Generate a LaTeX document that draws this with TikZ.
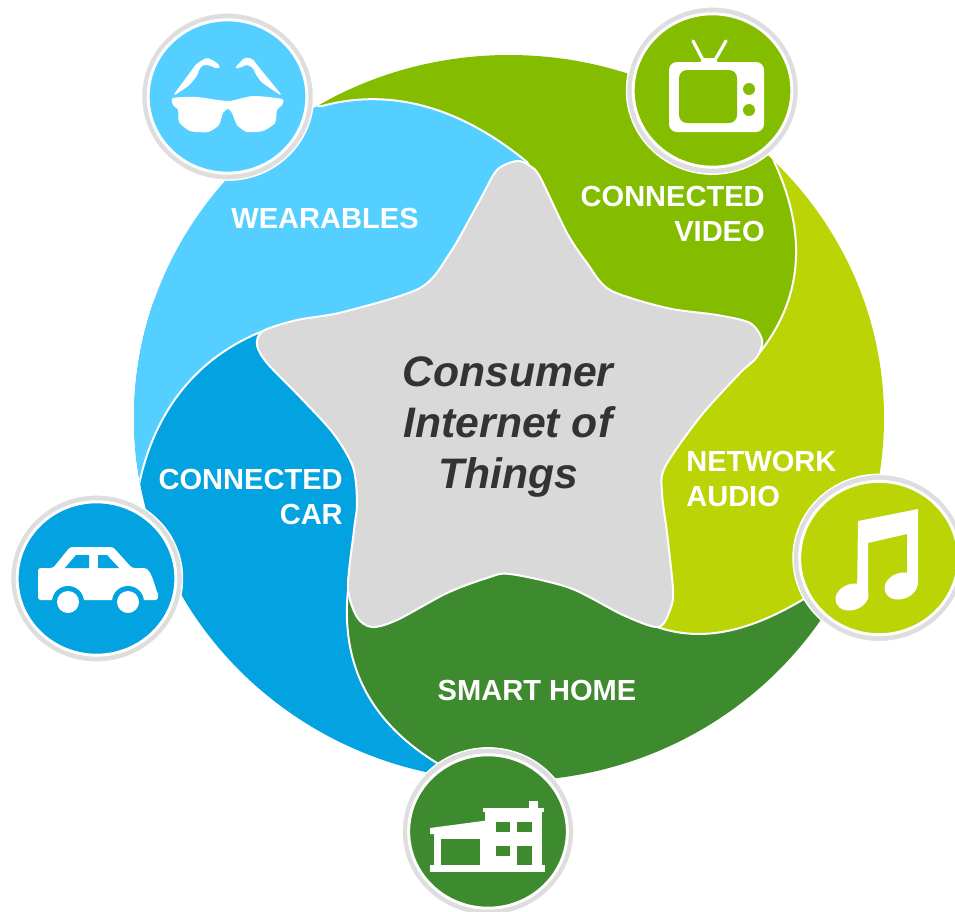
\documentclass[tikz,border=0pt]{standalone}
\usepackage{fontspec}
\setmainfont{Liberation Sans}
\usetikzlibrary{shapes.geometric}
\definecolor{videogreen}{HTML}{84BD00}
\definecolor{audiolime}{HTML}{BBD405}
\definecolor{homegreen}{HTML}{3E8A2F}
\definecolor{wearblue}{HTML}{55CFFF}
\definecolor{carblue}{HTML}{03A3E1}
\definecolor{stargray}{HTML}{D9D9D9}
\definecolor{ringgray}{HTML}{DEDEDE}
\definecolor{titlegray}{HTML}{333333}
\begin{document}
\begin{tikzpicture}[x=.75pt,y=-.75pt]
    \tikzstyle{petal}=[draw=white, line width=1.5pt, line join=round];
    \tikzstyle{st}=[font=\fontsize{21.8}{26}\selectfont\bfseries, text=white, inner sep=0pt];
    \tikzstyle{ringout}=[ellipse, fill=ringgray, draw=white, line width=1.1pt, minimum width=129pt, minimum height=125.5pt, inner sep=0pt];
    \tikzstyle{ringin}=[ellipse, draw=white, line width=2.2pt, minimum width=119pt, minimum height=115pt, inner sep=0pt];
    \useasboundingbox (0,0) rectangle (955,911);

    \begin{scope}
    \clip (509,418) ellipse [x radius=375, y radius=363];
    \fill[carblue] (280,340) -- (250,300) -- (100,300) -- (100,800) -- (470,800) -- (400,560) -- (400,420) -- cycle;
    \filldraw[petal, fill=homegreen] (460,795) -- (437,763) .. controls (375,725) and (340,670) .. (348,590) -- (420,560) -- (600,560) -- (760,600) -- (830,560) -- (900,560) -- (900,850) -- cycle;
    \filldraw[petal, fill=audiolime] (657,627) .. controls (710,645) and (770,630) .. (860,560) -- (960,500) -- (960,100) -- (740,130) -- (700,300) -- (620,400) -- (620,600) -- cycle;
    \filldraw[petal, fill=videogreen] (770,153) .. controls (806,225) and (810,300) .. (748,366) -- (600,400) -- (500,200) -- (420,130) -- (300,110) -- (300,0) -- (780,0) -- cycle;
    \filldraw[petal, fill=wearblue] (322,106) .. controls (400,85) and (470,115) .. (527,162) -- (540,185) -- (500,200) -- (400,330) -- (270,345) -- (263,331) .. controls (190,360) and (150,420) .. (137,495) -- (100,520) -- (100,100) -- cycle;
    \end{scope}

    \filldraw[petal, fill=stargray] plot[smooth cycle] coordinates {(517,161) (530,166) (540,177) (567,233) (587,263) (610,290) (667,308) (717,315) (750,323) (762,340) (757,357) (740,373) (700,417) (665,467) (662,493) (667,533) (673,590) (670,610) (658,627) (623,615) (570,588) (510,574) (487,578) (447,593) (397,620) (372,627) (357,617) (348,587) (354,530) (357,503) (353,467) (333,433) (300,397) (267,363) (257,345) (263,331) (297,320) (343,312) (420,288) (450,253) (480,200) (497,170)};

    \node (title) at (508,427) [font=\fontsize{32}{38}\selectfont\bfseries\itshape, text=titlegray, align=center, inner sep=0pt] {Consumer\\Internet of\\Things};
    \node (wearables) at (325,218) [st] {WEARABLES};
    \node (video) at (765,214) [st, anchor=east, align=right] {CONNECTED\\VIDEO};
    \node (audio) at (686,479) [st, anchor=west, align=left] {NETWORK\\AUDIO};
    \node (home) at (537,690) [st] {SMART HOME};
    \node (car) at (343,497) [st, anchor=east, align=right] {CONNECTED\\CAR};

    \node (wearablesout) at (227.5,96.5) [ringout] {};
    \node (wearablesicon) at (wearablesout) [ringin, fill=wearblue] {};
    \node (videoout) at (712.5,90.5) [ringout] {};
    \node (videoicon) at (videoout) [ringin, fill=videogreen] {};
    \node (audioout) at (879,558) [ringout] {};
    \node (audioicon) at (audioout) [ringin, fill=audiolime] {};
    \node (homeout) at (488,831.5) [ringout] {};
    \node (homeicon) at (homeout) [ringin, fill=homegreen] {};
    \node (carout) at (96.5,578.5) [ringout] {};
    \node (caricon) at (carout) [ringin, fill=carblue] {};

    \fill[white] plot[smooth cycle, tension=.4] coordinates {(173,98) (197,97) (228,101) (253,96) (282,99) (282,105) (277,110) (275,123) (263,131) (247,132) (237,125) (232,113) (228,109) (223,113) (219,125) (208,132) (190,131) (179,122) (178,110) (173,105)};
    \filldraw[white, line width=.8pt, line join=round, rounded corners=1.5pt] (174,95) -- (197,64) -- (207,58) -- (215,62) -- (220,67) -- (217,68) -- (210,65) -- (204,64) -- (199,68) -- (197,75) -- (189,85) -- cycle;
    \filldraw[white, line width=.8pt, line join=round, rounded corners=1.5pt] (281,95) -- (258,67) -- (252,59) -- (245,58) -- (236,67) -- (238,68) -- (247,64) -- (254,68) -- (256,74) -- (262,82) -- cycle;

    \draw[white, line width=2.4pt, line cap=round] (703,60) -- (693,41);
    \draw[white, line width=2.4pt, line cap=round] (715,60) -- (726,41);
    \fill[white] (700,63) -- (703,58) -- (715,58) -- (718,63) -- cycle;
    \fill[white, rounded corners=6pt] (669,62) rectangle (764,132);
    \fill[videogreen, rounded corners=6pt] (679,70) rectangle (737,123);
    \fill[videogreen] (749,89) circle (6);
    \fill[videogreen] (749,110) circle (6);

    \fill[white] (858,521) -- (918,509) -- (918,585) -- (907,585) -- (907,534) -- (868,543) -- (868,598) -- (857,598) -- cycle;
    \fill[white, rotate around={20:(852,597)}] (852,597) ellipse [x radius=17, y radius=13];
    \fill[white, rotate around={20:(901,586)}] (901,586) ellipse [x radius=17, y radius=13];

    \fill[white] (430,865) rectangle (545,872);
    \fill[white] (434,833) rectangle (490,865);
    \fill[white] (430,828) -- (490,820) -- (490,834) -- (430,834) -- cycle;
    \fill[white] (485,812) rectangle (542,865);
    \fill[white] (483,808) rectangle (544,812);
    \fill[white] (529,801) rectangle (538,808);
    \fill[homegreen] (441,839) rectangle (480,865);
    \fill[homegreen] (496,822) rectangle (510,832);
    \fill[homegreen] (517,822) rectangle (532,832);
    \fill[homegreen] (496,846) rectangle (510,856);
    \fill[homegreen] (517,846) rectangle (532,865);

    \fill[white, rounded corners=2pt] (38,568) -- (53,568) -- (70,547) -- (113,547) -- (132,568) -- (142,568) to[out=0, in=-90] (158,590) -- (158,600) -- (38,600) -- cycle;
    \fill[carblue] (68,602) circle (16);
    \fill[carblue] (128,602) circle (16);
    \fill[carblue] (52,600) rectangle (84,610);
    \fill[carblue] (112,600) rectangle (144,610);
    \fill[white] (68,602) circle (11);
    \fill[white] (128,602) circle (11);
    \fill[carblue] (65,568) -- (76,555) -- (89,555) -- (89,568) -- cycle;
    \fill[carblue] (98,555) -- (107,555) -- (119,568) -- (98,568) -- cycle;
\end{tikzpicture}
\end{document}
